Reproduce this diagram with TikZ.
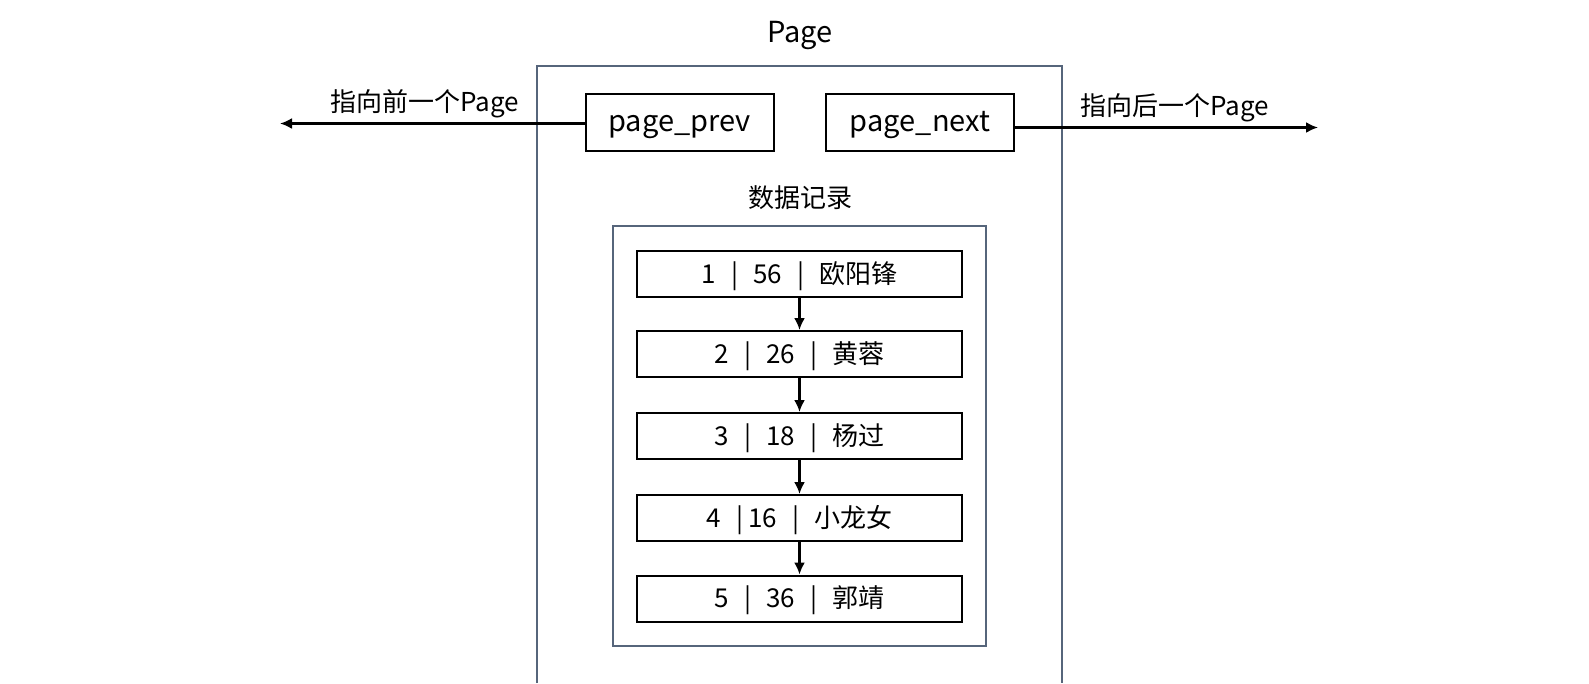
\documentclass[tikz,border=0pt]{standalone}
\usepackage{fontspec}
\setmainfont{Noto Sans CJK SC}
\usetikzlibrary{arrows.meta}
\definecolor{frame}{HTML}{56657B}
\newcommand{\sep}{\hspace{15pt}|\hspace{15pt}}
\tikzset{
  rec/.style={draw=black, line width=2pt, minimum width=325pt, minimum height=46pt, inner sep=0pt, text height=24pt, text depth=6pt, font=\fontsize{26pt}{30pt}\selectfont},
  ptr/.style={draw=black, line width=2pt, minimum width=188pt, minimum height=57pt, inner sep=0pt, text height=24pt, text depth=6pt, font=\fontsize{29pt}{34pt}\selectfont},
  lbl/.style={inner sep=0pt, font=\fontsize{26pt}{30pt}\selectfont},
  conn/.style={line width=2.2pt, -{Latex[length=12pt,width=11pt]}},
}
\begin{document}
\begin{tikzpicture}[x=1pt,y=-1pt]
\useasboundingbox (0,0) rectangle (1589,683);
% outer page frame (open at bottom)
\draw[frame, line width=2pt] (536.5,683) -- (536.5,66) -- (1062,66) -- (1062,683);
\node[lbl, anchor=base, font=\fontsize{29pt}{34pt}\selectfont] (title) at (800,42) {Page};
\node[ptr] (prev) at (679.5,122.5) {page\_prev};
\node[ptr] (next) at (920,122.5) {page\_next};
\coordinate (leftend) at (280,123.5);
\coordinate (rightend) at (1318,127.5);
\draw[conn] (prev.west |- leftend) -- (leftend);
\draw[conn] (next.east |- rightend) -- (rightend);
\node[lbl, anchor=base] (lprev) at (425,111) {指向前一个Page};
\node[lbl, anchor=base] (lnext) at (1175,115) {指向后一个Page};
\node[lbl] (data) at (800,198) {数据记录};
\node[draw=frame, line width=2pt, minimum width=373pt, minimum height=420pt, inner sep=0pt] (inner) at (799.5,436) {};
\node[rec] (r1) at (799.5,274) {1\sep 56\sep 欧阳锋};
\node[rec] (r2) at (799.5,354) {2\sep 26\sep 黄蓉};
\node[rec] (r3) at (799.5,436) {3\sep 18\sep 杨过};
\node[rec] (r4) at (799.5,518) {4\hspace{15pt}|\hspace{5pt}16\sep 小龙女};
\node[rec] (r5) at (799.5,598.5) {5\sep 36\sep 郭靖};
\draw[conn] (r1) -- (r2);
\draw[conn] (r2) -- (r3);
\draw[conn] (r3) -- (r4);
\draw[conn] (r4) -- (r5);
\end{tikzpicture}
\end{document}
